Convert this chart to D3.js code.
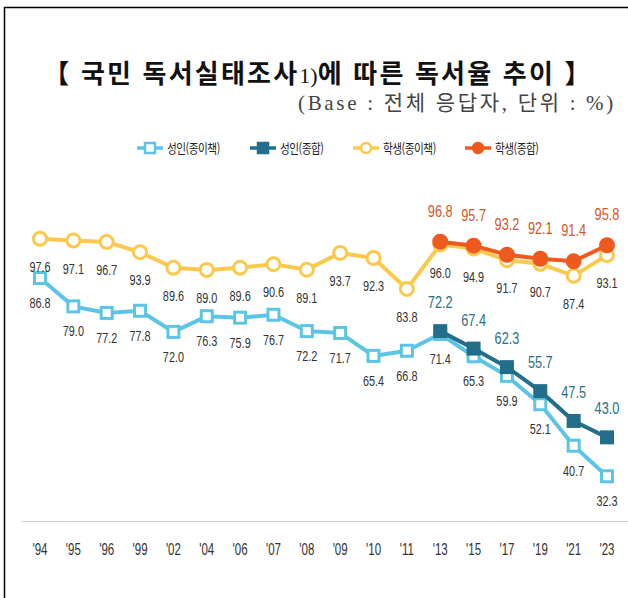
<!DOCTYPE html>
<html lang="ko">
<head>
  <meta charset="UTF-8">
  <title>국민 독서실태조사에 따른 독서율 추이</title>
  <script src="https://d3js.org/d3.v7.min.js"></script>
  <style>
    body { margin: 0; background: #fff; }
    svg { display: block; }
    .val { font-family: "Liberation Sans", Arial, sans-serif; }
    .title { font-family: "Noto Sans CJK KR", sans-serif; font-weight: 700; }
    .sub { font-family: "Liberation Serif", "Noto Sans CJK KR", serif; }
    .leg { font-family: "Noto Sans CJK KR", sans-serif; }
  </style>
</head>
<body>
  <svg width="628" height="598"></svg>
  <script>
    const years = ["'94","'95","'96","'99","'02","'04","'06","'07","'08","'09","'10","'11","'13","'15","'17","'19","'21","'23"];
    const studentPaper = [97.6,97.1,96.7,93.9,89.6,89.0,89.6,90.6,89.1,93.7,92.3,83.8,96.0,94.9,91.7,90.7,87.4,93.1];
    const adultPaper = [86.8,79.0,77.2,77.8,72.0,76.3,75.9,76.7,72.2,71.7,65.4,66.8,71.4,65.3,59.9,52.1,40.7,32.3];
    const totalYears = ["'13","'15","'17","'19","'21","'23"];
    const adultTotal = [72.2,67.4,62.3,55.7,47.5,43.0];
    const studentTotal = [96.8,95.7,93.2,92.1,91.4,95.8];
    const seriesNames = ["성인(종이책)", "성인(종합)", "학생(종이책)", "학생(종합)"];

    const svg = d3.select("svg");

    // frame
    svg.append("path")
      .attr("d", "M4.5,598 V7.5 H628")
      .attr("fill", "none").attr("stroke", "#000").attr("stroke-width", 1.5);

    // titles
    const title = svg.append("text").attr("class", "title")
      .attr("x", 318).attr("y", 83)
      .attr("text-anchor", "middle")
      .attr("letter-spacing", 2.2)
      .style("font-size", "26px").attr("fill", "#111");
    title.append("tspan").text("【 국민 독서실태조사");
    title.append("tspan").style("font-family", "Liberation Serif, serif")
      .style("font-weight", 400).style("font-size", "22px").attr("letter-spacing", 0).text("1)");
    title.append("tspan").text("에 따른 독서율 추이 】");

    svg.append("text").attr("class", "sub")
      .attr("x", 616).attr("y", 110)
      .attr("text-anchor", "end")
      .attr("letter-spacing", 2.7)
      .style("font-size", "21px").attr("fill", "#444")
      .text("(Base : 전체 응답자, 단위 : %)");

    const x = d3.scalePoint().domain(years).range([40, 607]);
    const y = d3.scaleLinear().domain([20, 100]).range([521, 230]);

    const colors = ["#5cc5e6", "#236e8a", "#fcc94c", "#ee5a1e"];

    // condensed text helper
    function narrow(sel, sx) {
      sel.attr("transform", function() {
        const px = +this.getAttribute("data-x"), py = +this.getAttribute("data-y");
        return `translate(${px},${py}) scale(${sx},1)`;
      });
    }

    // baseline
    svg.append("line")
      .attr("x1", 22).attr("x2", 628)
      .attr("y1", y(20) + 0.5).attr("y2", y(20) + 0.5)
      .attr("stroke", "#ccc").attr("stroke-width", 1.2);

    // x labels
    svg.append("g").selectAll("text")
      .data(years).join("text")
      .attr("class", "val")
      .attr("data-x", d => x(d)).attr("data-y", 555)
      .attr("text-anchor", "middle")
      .style("font-size", "16px").attr("fill", "#333")
      .text(d => d)
      .call(narrow, 0.72);

    const series = [
      {name: seriesNames[0], cats: years, vals: adultPaper, color: colors[0], shape: "sq", fill: "#fff", labelDy: 30, labelColor: "#333", fs: 14.5},
      {name: seriesNames[1], cats: totalYears, vals: adultTotal, color: colors[1], shape: "sq", fill: colors[1], labelDy: -23, labelColor: "#2a6e88", fs: 17},
      {name: seriesNames[2], cats: years, vals: studentPaper, color: colors[2], shape: "ci", fill: "#fff", labelDy: 33, labelColor: "#333", fs: 14.5},
      {name: seriesNames[3], cats: totalYears, vals: studentTotal, color: colors[3], shape: "ci", fill: colors[3], labelDy: -25, labelColor: "#d5552a", fs: 17}
    ];

    const line = d3.line().x(d => x(d[0])).y(d => y(d[1]));

    series.forEach(s => {
      const pts = s.cats.map((c, i) => [c, s.vals[i]]);
      const g = svg.append("g");
      g.append("path").datum(pts)
        .attr("d", line)
        .attr("fill", "none").attr("stroke", s.color).attr("stroke-width", 4);
      if (s.shape === "sq") {
        g.selectAll("rect").data(pts).join("rect")
          .attr("x", d => x(d[0]) - 5.5).attr("y", d => y(d[1]) - 5.5)
          .attr("width", 11).attr("height", 11)
          .attr("fill", s.fill).attr("stroke", s.color).attr("stroke-width", 3);
      } else {
        g.selectAll("circle").data(pts).join("circle")
          .attr("cx", d => x(d[0])).attr("cy", d => y(d[1]))
          .attr("r", 6.5)
          .attr("fill", s.fill).attr("stroke", s.color).attr("stroke-width", 3);
      }
      s.pts = pts;
    });

    // value labels
    series.forEach(s => {
      svg.append("g").selectAll("text").data(s.pts).join("text")
        .attr("class", "val")
        .attr("data-x", d => x(d[0])).attr("data-y", d => y(d[1]) + s.labelDy)
        .attr("text-anchor", "middle")
        .style("font-size", s.fs + "px")
        .attr("fill", s.labelColor)
        .text(d => d[1].toFixed(1))
        .call(narrow, 0.75);
    });

    // legend
    const legX = [137, 250, 353, 465];
    const leg = svg.append("g").attr("transform", "translate(0,148)");
    series.forEach((s, i) => {
      const lg = leg.append("g").attr("transform", `translate(${legX[i]},0)`);
      lg.append("line").attr("x1", 0).attr("x2", 26)
        .attr("stroke", s.color).attr("stroke-width", 3.5);
      if (s.shape === "sq") {
        lg.append("rect").attr("x", 8).attr("y", -5).attr("width", 10).attr("height", 10)
          .attr("fill", s.fill).attr("stroke", s.color).attr("stroke-width", 2.5);
      } else {
        lg.append("circle").attr("cx", 13).attr("r", 5)
          .attr("fill", s.fill).attr("stroke", s.color).attr("stroke-width", 2.5);
      }
      lg.append("text").attr("class", "leg")
        .attr("transform", "translate(30,5) scale(0.82,1)")
        .style("font-size", "13px").attr("fill", "#222")
        .attr("letter-spacing", "-0.6")
        .text(s.name);
    });
  </script>
</body>
</html>
